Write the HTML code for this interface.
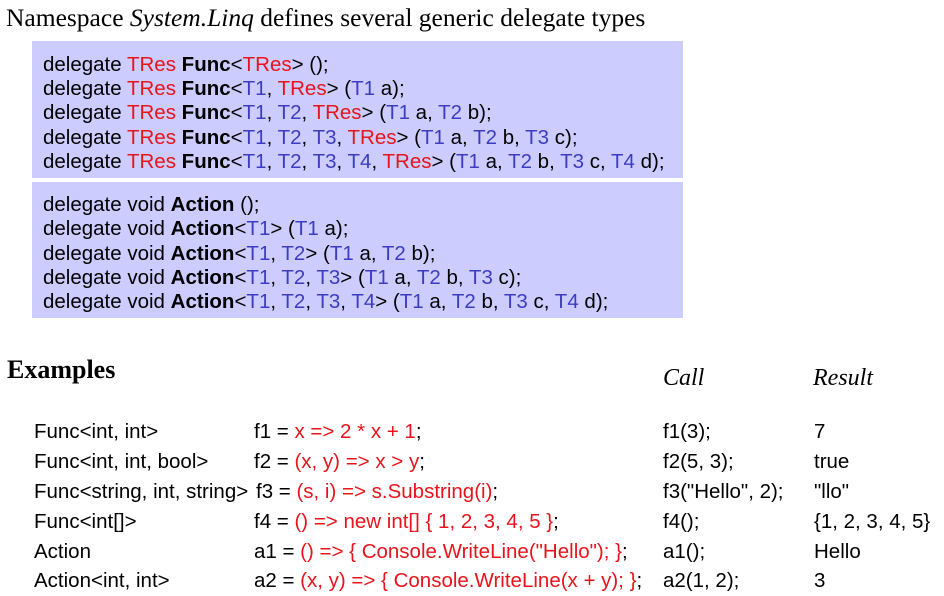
<!DOCTYPE html>
<html><head><meta charset="utf-8"><style>
body{margin:0;width:944px;height:596px;background:#fff;position:relative;overflow:hidden;font-family:"Liberation Sans",Arial,sans-serif;color:#000}
.a{position:absolute;white-space:pre;line-height:1}
.r{color:#e8141c}.b{color:#3c3cc0}
.box{position:absolute;left:32px;width:651px;background:#ccccff}
.code{font-size:20.5px}
.ser{font-family:"Liberation Serif",serif}
</style></head><body>
<div class="a ser" style="left:6px;top:5px;font-size:25.5px">Namespace <i>System.Linq</i> defines several generic delegate types</div>
<div class="box" style="top:41px;height:137px"></div>
<div class="box" style="top:182px;height:136px"></div>
<div class="a code" style="left:43px;top:55px">delegate <span class="r">TRes</span> <b>Func</b>&lt;<span class="r">TRes</span>&gt; ();</div>
<div class="a code" style="left:43px;top:79px">delegate <span class="r">TRes</span> <b>Func</b>&lt;<span class="b">T1</span>, <span class="r">TRes</span>&gt; (<span class="b">T1</span> a);</div>
<div class="a code" style="left:43px;top:103px">delegate <span class="r">TRes</span> <b>Func</b>&lt;<span class="b">T1</span>, <span class="b">T2</span>, <span class="r">TRes</span>&gt; (<span class="b">T1</span> a, <span class="b">T2</span> b);</div>
<div class="a code" style="left:43px;top:128px">delegate <span class="r">TRes</span> <b>Func</b>&lt;<span class="b">T1</span>, <span class="b">T2</span>, <span class="b">T3</span>, <span class="r">TRes</span>&gt; (<span class="b">T1</span> a, <span class="b">T2</span> b, <span class="b">T3</span> c);</div>
<div class="a code" style="left:43px;top:152px">delegate <span class="r">TRes</span> <b>Func</b>&lt;<span class="b">T1</span>, <span class="b">T2</span>, <span class="b">T3</span>, <span class="b">T4</span>, <span class="r">TRes</span>&gt; (<span class="b">T1</span> a, <span class="b">T2</span> b, <span class="b">T3</span> c, <span class="b">T4</span> d);</div>
<div class="a code" style="left:43px;top:195px">delegate void <b>Action</b> ();</div>
<div class="a code" style="left:43px;top:219px">delegate void <b>Action</b>&lt;<span class="b">T1</span>&gt; (<span class="b">T1</span> a);</div>
<div class="a code" style="left:43px;top:244px">delegate void <b>Action</b>&lt;<span class="b">T1</span>, <span class="b">T2</span>&gt; (<span class="b">T1</span> a, <span class="b">T2</span> b);</div>
<div class="a code" style="left:43px;top:268px">delegate void <b>Action</b>&lt;<span class="b">T1</span>, <span class="b">T2</span>, <span class="b">T3</span>&gt; (<span class="b">T1</span> a, <span class="b">T2</span> b, <span class="b">T3</span> c);</div>
<div class="a code" style="left:43px;top:292px">delegate void <b>Action</b>&lt;<span class="b">T1</span>, <span class="b">T2</span>, <span class="b">T3</span>, <span class="b">T4</span>&gt; (<span class="b">T1</span> a, <span class="b">T2</span> b, <span class="b">T3</span> c, <span class="b">T4</span> d);</div>

<div class="a ser" style="left:7px;top:357px;font-size:26px;font-weight:bold">Examples</div>
<div class="a ser" style="left:663px;top:366px;font-size:24px;font-style:italic">Call</div>
<div class="a ser" style="left:813px;top:366px;font-size:24px;font-style:italic">Result</div>

<div class="a code" style="left:34px;top:422px">Func&lt;int, int&gt;</div>
<div class="a code" style="left:34px;top:452px">Func&lt;int, int, bool&gt;</div>
<div class="a code" style="left:34px;top:482px">Func&lt;string, int, string&gt;</div>
<div class="a code" style="left:34px;top:512px">Func&lt;int[]&gt;</div>
<div class="a code" style="left:34px;top:542px">Action</div>
<div class="a code" style="left:34px;top:571px">Action&lt;int, int&gt;</div>

<div class="a code" style="left:254px;top:422px">f1 = <span class="r">x =&gt; 2 * x + 1</span>;</div>
<div class="a code" style="left:254px;top:452px">f2 = <span class="r">(x, y) =&gt; x &gt; y</span>;</div>
<div class="a code" style="left:256px;top:482px">f3 = <span class="r">(s, i) =&gt; s.Substring(i)</span>;</div>
<div class="a code" style="left:254px;top:512px">f4 = <span class="r">() =&gt; new int[] { 1, 2, 3, 4, 5 }</span>;</div>
<div class="a code" style="left:254px;top:542px">a1 = <span class="r">() =&gt; { Console.WriteLine("Hello"); }</span>;</div>
<div class="a code" style="left:254px;top:571px">a2 = <span class="r">(x, y) =&gt; { Console.WriteLine(x + y); }</span>;</div>

<div class="a code" style="left:663px;top:422px">f1(3);</div>
<div class="a code" style="left:663px;top:452px">f2(5, 3);</div>
<div class="a code" style="left:663px;top:482px">f3("Hello", 2);</div>
<div class="a code" style="left:663px;top:512px">f4();</div>
<div class="a code" style="left:663px;top:542px">a1();</div>
<div class="a code" style="left:663px;top:571px">a2(1, 2);</div>

<div class="a code" style="left:814px;top:422px">7</div>
<div class="a code" style="left:814px;top:452px">true</div>
<div class="a code" style="left:814px;top:482px">"llo"</div>
<div class="a code" style="left:814px;top:512px">{1, 2, 3, 4, 5}</div>
<div class="a code" style="left:814px;top:542px">Hello</div>
<div class="a code" style="left:814px;top:571px">3</div>
</body></html>
